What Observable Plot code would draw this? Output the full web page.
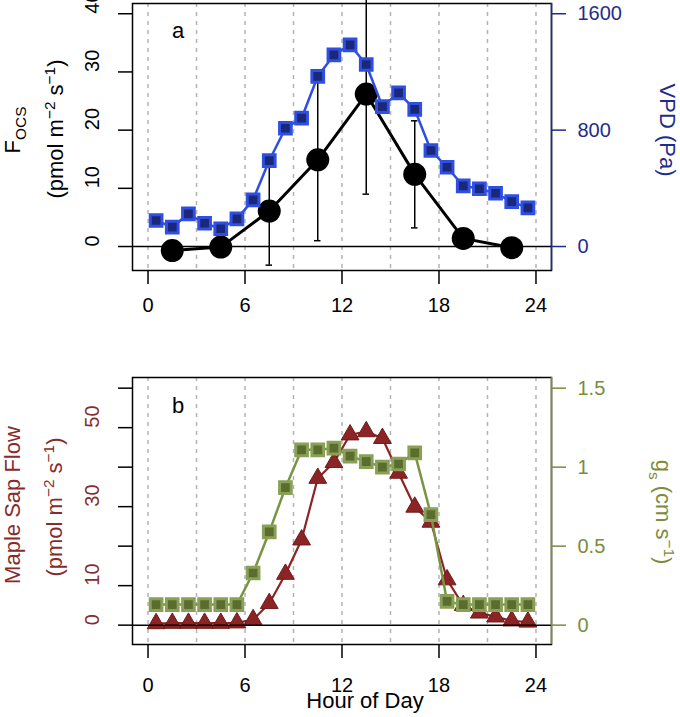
<!DOCTYPE html>
<html>
<head>
<meta charset="utf-8">
<script src="https://cdn.jsdelivr.net/npm/d3@7"></script>
<script src="https://cdn.jsdelivr.net/npm/@observablehq/plot@0.6"></script>
<style>
  body { margin: 0; background: #fff; }
  #chart { width: 680px; height: 717px; position: relative; overflow: hidden; }
  #chart svg { display: block; }
</style>
</head>
<body>
<div id="chart"></div>
<script>
// ---------- data ----------
const halfHours = [0.5,1.5,2.5,3.5,4.5,5.5,6.5,7.5,8.5,9.5,10.5,11.5,12.5,13.5,14.5,15.5,16.5,17.5,18.5,19.5,20.5,21.5,22.5,23.5];
const focsHours = [1.5,4.5,7.5,10.5,13.5,16.5,19.5,22.5];
const focsValues = [-0.7,-0.1,6.1,14.9,26.2,12.4,1.4,-0.2];
const focsErrors = [0,0,9.3,13.9,17.2,9.2,0,0];
const vpdValues = [179,133,225,160,122,190,321,591,813,882,1170,1317,1386,1251,962,1056,942,660,545,417,397,366,309,266];
const sapValues = [0.4,0.5,0.5,0.5,0.5,0.6,1.4,5.5,12.9,21.6,37.2,41.2,48.2,49.0,47.3,38.5,29.9,26.1,11.5,5.0,3.1,2.1,1.1,0.8];
const gsValues = [0.13,0.13,0.13,0.13,0.13,0.13,0.33,0.59,0.87,1.11,1.11,1.12,1.07,1.035,1.0,1.02,1.09,0.70,0.15,0.13,0.13,0.13,0.13,0.13];
const hourTicks = [0,6,12,18,24];
const gridHours = [0,3,6,9,12,15,18,21,24];
const focsTicks = [0,10,20,30,40];
const vpdTicks = [0,800,1600];
const sapTicks = [0,10,20,30,40,50,60];
const sapTickLabels = [0,10,30,50];
const gsTicks = [0,0.5,1,1.5];
const vpdScale = 40;   // VPD (Pa) per F_OCS unit on the shared axis
const gsScale = 40;    // sap-flow units per gs unit on the shared axis

// ---------- tables ----------
const focs = focsHours.map((h,i) => ({hour:h, value:focsValues[i], err:focsErrors[i]}));
const focsErr = focs.filter(d => d.err > 0);
const vpd = halfHours.map((h,i) => ({hour:h, vpd:vpdValues[i]}));
const sap = halfHours.map((h,i) => ({hour:h, sap:sapValues[i]}));
const gs = halfHours.map((h,i) => ({hour:h, gs:gsValues[i]}));

// ---------- styles ----------
const FONT = "'Liberation Sans', Arial, Helvetica, sans-serif";
const NAVY = "#1f2c8c", BLUE = "#2f4fe3", NAVYFILL = "#1b2778";
const MAROON = "#8b2424", MAROONTXT = "#862c2c";
const OLIVE = "#7d8b3c", OLIVELINE = "#7a9444", OLIVEFILL = "#5a6d2e", OLIVEEDGE = "#89a056";
const xDomain = [-0.96, 24.96];
const capHalf = 0.2;

function common(h, mt, mb, yDomain) {
  return {
    width: 680, height: h, marginTop: mt, marginBottom: mb, marginLeft: 132, marginRight: 129,
    style: {fontFamily: FONT, fontSize: "20px", background: "white", color: "black", overflow: "visible"},
    x: {domain: xDomain}, y: {domain: yDomain}
  };
}

// ---------- panel a ----------
const pa = Plot.plot({
  ...common(340, 3, 70, [-4.12, 41.76]),
  marks: [
    Plot.ruleX(gridHours, {stroke: "#b3b3b3", strokeWidth: 1.5, strokeDasharray: "4,5"}),
    Plot.ruleY([0], {stroke: "black", strokeWidth: 1.5}),
    Plot.line(focs, {x: "hour", y: "value", stroke: "black", strokeWidth: 3}),
    Plot.ruleX(focsErr, {x: "hour", y1: d => d.value - d.err, y2: d => d.value + d.err, stroke: "black", strokeWidth: 1.5}),
    Plot.ruleY(focsErr, {y: d => d.value - d.err, x1: d => d.hour - capHalf, x2: d => d.hour + capHalf, stroke: "black", strokeWidth: 1.5}),
    Plot.ruleY(focsErr, {y: d => d.value + d.err, x1: d => d.hour - capHalf, x2: d => d.hour + capHalf, stroke: "black", strokeWidth: 1.5}),
    Plot.dot(focs, {x: "hour", y: "value", r: 11.5, fill: "black", stroke: "none"}),
    Plot.line(vpd, {x: "hour", y: d => d.vpd / vpdScale, stroke: BLUE, strokeWidth: 2.5}),
    Plot.dot(vpd, {x: "hour", y: d => d.vpd / vpdScale, symbol: "square", r: 6.6, fill: NAVYFILL, stroke: BLUE, strokeWidth: 3}),
    Plot.frame({stroke: "black", strokeWidth: 1.5}),
    Plot.ruleX([xDomain[1]], {stroke: NAVY, strokeWidth: 1.5}),
    Plot.axisX(hourTicks, {anchor: "bottom", tickSize: 14, tickPadding: 13, fontSize: 20, label: null, strokeWidth: 1.5}),
    Plot.axisY(focsTicks, {anchor: "left", tickSize: 14, tickFormat: () => "", label: null, strokeWidth: 1.5}),
    Plot.text(focsTicks, {y: d => d, text: d => String(d), frameAnchor: "left", dx: -40, rotate: -90, fontSize: 20, fill: "black"}),
    Plot.axisY(vpdTicks.map(v => v / vpdScale), {anchor: "right", tickSize: 14, tickPadding: 12, fontSize: 20, label: null,
      tickFormat: d => String(Math.round(d * vpdScale)), color: NAVY, strokeWidth: 1.5})
  ]
});

// ---------- panel b ----------
const pb = Plot.plot({
  ...common(377, 37, 73, [-4.9, 62.7]),
  marks: [
    Plot.ruleX(gridHours, {stroke: "#b3b3b3", strokeWidth: 1.5, strokeDasharray: "4,5"}),
    Plot.line(sap, {x: "hour", y: "sap", stroke: MAROON, strokeWidth: 2.2}),
    Plot.dot(sap, {x: "hour", y: "sap", symbol: "triangle", r: 6.6, fill: MAROON, stroke: "#6f1b1b", strokeWidth: 1}),
    Plot.line(gs, {x: "hour", y: d => d.gs * gsScale, stroke: OLIVELINE, strokeWidth: 2.5}),
    Plot.dot(gs, {x: "hour", y: d => d.gs * gsScale, symbol: "square", r: 6.6, fill: OLIVEFILL, stroke: OLIVEEDGE, strokeWidth: 3}),
    Plot.ruleY([0], {stroke: "black", strokeWidth: 1.5}),
    Plot.frame({stroke: "black", strokeWidth: 1.5}),
    Plot.ruleX([xDomain[1]], {stroke: OLIVE, strokeWidth: 1.5}),
    Plot.axisX(hourTicks, {anchor: "bottom", tickSize: 14, tickPadding: 19, fontSize: 20, label: null, strokeWidth: 1.5}),
    Plot.axisY(sapTicks, {anchor: "left", tickSize: 14, tickFormat: () => "", label: null, strokeWidth: 1.5}),
    Plot.text(sapTickLabels, {y: d => d, text: d => String(d), frameAnchor: "left", dx: -40, rotate: -90, fontSize: 20, fill: MAROONTXT}),
    Plot.axisY(gsTicks.map(g => g * gsScale), {anchor: "right", tickSize: 14, tickPadding: 12, fontSize: 20, label: null,
      tickFormat: d => String(d / gsScale), color: OLIVE, strokeWidth: 1.5})
  ]
});

const chart = document.getElementById("chart");
chart.appendChild(pa);
chart.appendChild(pb);

// ---------- rich-text titles (sub/superscripts) ----------
function richText(svg, x, y, rot, parts, color, size, anchor = "middle") {
  const t = d3.select(svg).append("text")
    .attr("transform", `translate(${x},${y}) rotate(${rot})`)
    .attr("text-anchor", anchor)
    .attr("fill", color)
    .attr("font-family", FONT)
    .attr("font-size", size);
  let shift = 0;
  for (const p of parts) {
    const target = p.sub ? 0.3 * size : p.sup ? -0.36 * size : 0;
    const s = t.append("tspan").text(p.t).attr("dy", target - shift);
    if (p.sub || p.sup) s.attr("font-size", size * 0.7);
    shift = target;
  }
  return t;
}
const unitsParts = [{t: "(pmol m"}, {t: "\u22122", sup: true}, {t: " s"}, {t: "\u22121", sup: true}, {t: ")"}];

richText(pa, 19.5, 130, -90, [{t: "F"}, {t: "OCS", sub: true}], "black", 22);
richText(pa, 62.5, 129, -90, unitsParts, "black", 22);
richText(pa, 660, 130, 90, [{t: "VPD (Pa)"}], NAVY, 22);
richText(pa, 178, 38, 0, [{t: "a"}], "black", 22);

richText(pb, 19.5, 165, -90, [{t: "Maple Sap Flow"}], MAROONTXT, 22);
richText(pb, 62, 167, -90, unitsParts, MAROONTXT, 22);
richText(pb, 656, 172, 90, [{t: "g"}, {t: "s", sub: true}, {t: " (cm s"}, {t: "\u22121", sup: true}, {t: ")"}], OLIVE, 22);
richText(pb, 178, 72.7, 0, [{t: "b"}], "black", 22);
richText(pb, 365, 368, 0, [{t: "Hour of Day"}], "black", 22);
</script>
</body>
</html>
